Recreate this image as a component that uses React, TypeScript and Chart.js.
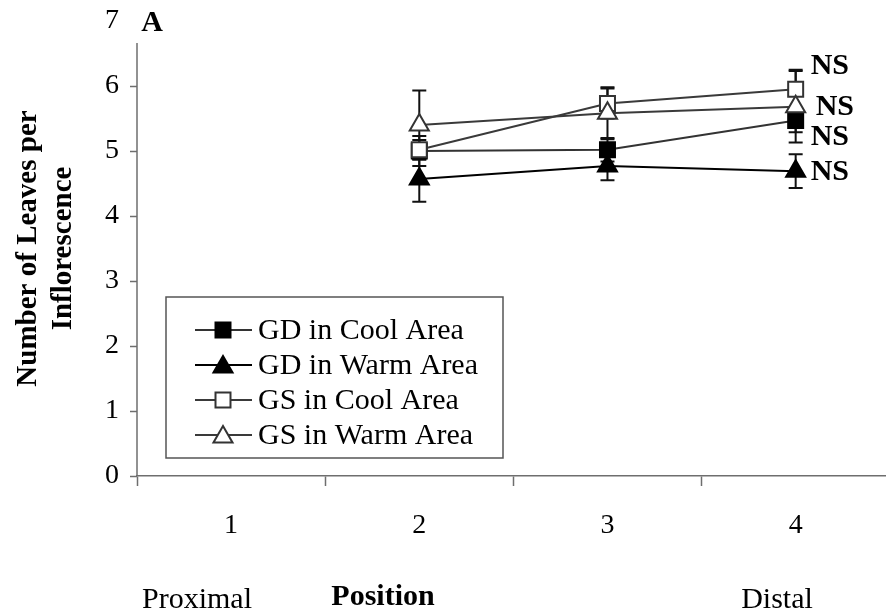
import React, { useEffect, useRef } from 'react';
import { Chart, registerables } from 'chart.js';

Chart.register(...registerables);

// Inflorescence position along the shoot (1 = proximal, 4 = distal)
const positions = [1, 2, 3, 4];
const positionLabels = ['1', '2', '3', '4'];
const yTicks = [0, 1, 2, 3, 4, 5, 6, 7];

// Mean number of leaves per inflorescence and standard error
const gdCool = [null, 5.0, 5.02, 5.47];
const gdCoolErr = [null, 0.23, 0.18, 0.18];
const gdWarm = [null, 4.57, 4.77, 4.69];
const gdWarmErr = [null, 0.35, 0.22, 0.26];
const gsCool = [null, 5.02, 5.73, 5.95];
const gsCoolErr = [null, 0.15, 0.23, 0.3];
const gsWarm = [null, 5.4, 5.58, 5.68];
const gsWarmErr = [null, 0.53, 0.4, 0.55];

const seriesLabels = ['GD in Cool Area', 'GD in Warm Area', 'GS in Cool Area', 'GS in Warm Area'];
const significance = ['NS', 'NS', 'NS', 'NS'];

const SERIF = '"Liberation Serif", "Times New Roman", Times, serif';
const AXIS_GREY = '#6e6e6e';

type SeriesStyle = {
  shape: 'rect' | 'triangle';
  radius: number;
  fill: string;
  stroke: string;
  line: string;
  order: number;
  nsDx: number;
  nsDy: number;
};

const styles: SeriesStyle[] = [
  { shape: 'rect', radius: 10.6, fill: '#000', stroke: '#000', line: '#333', order: 3, nsDx: 15, nsDy: 17 },
  { shape: 'triangle', radius: 11, fill: '#000', stroke: '#000', line: '#000', order: 2, nsDx: 15, nsDy: 1 },
  { shape: 'rect', radius: 10.6, fill: '#fff', stroke: '#333', line: '#3a3a3a', order: 1, nsDx: 15, nsDy: -23 },
  { shape: 'triangle', radius: 11, fill: '#fff', stroke: '#333', line: '#3a3a3a', order: 0, nsDx: 20, nsDy: 0 },
];

const seriesValues = [gdCool, gdWarm, gsCool, gsWarm];
const seriesErrors = [gdCoolErr, gdWarmErr, gsCoolErr, gsWarmErr];

function drawMarker(
  ctx: CanvasRenderingContext2D,
  st: SeriesStyle,
  x: number,
  y: number,
) {
  const r = st.radius;
  ctx.beginPath();
  if (st.shape === 'rect') {
    const s = r * Math.SQRT1_2;
    ctx.rect(x - s, y - s, 2 * s, 2 * s);
  } else {
    const w = r * Math.sin((2 * Math.PI) / 3);
    ctx.moveTo(x, y - r);
    ctx.lineTo(x + w, y + r / 2);
    ctx.lineTo(x - w, y + r / 2);
    ctx.closePath();
  }
  ctx.fillStyle = st.fill;
  ctx.fill();
  ctx.lineWidth = 2;
  ctx.strokeStyle = st.stroke;
  ctx.stroke();
}

// Vertical standard-error bars with caps
const errorBarsPlugin = {
  id: 'errorBars',
  beforeDatasetsDraw(chart: any) {
    const { ctx, scales } = chart;
    const xs = scales.x;
    const ys = scales.y;
    ctx.save();
    ctx.strokeStyle = '#111';
    ctx.lineWidth = 2;
    seriesValues.forEach((vals, si) => {
      vals.forEach((v, i) => {
        if (v == null) return;
        const e = seriesErrors[si][i] as number;
        const px = xs.getPixelForValue(positions[i]);
        const top = ys.getPixelForValue(v + e);
        const bot = ys.getPixelForValue(v - e);
        ctx.beginPath();
        ctx.moveTo(px, top);
        ctx.lineTo(px, bot);
        ctx.moveTo(px - 7, top);
        ctx.lineTo(px + 7, top);
        ctx.moveTo(px - 7, bot);
        ctx.lineTo(px + 7, bot);
        ctx.stroke();
      });
    });
    ctx.restore();
  },
};

// Significance marks beside the distal points
const significancePlugin = {
  id: 'significance',
  afterDatasetsDraw(chart: any) {
    const { ctx, scales } = chart;
    const last = positions.length - 1;
    ctx.save();
    ctx.font = `bold 30px ${SERIF}`;
    ctx.fillStyle = '#000';
    ctx.textAlign = 'left';
    ctx.textBaseline = 'middle';
    seriesValues.forEach((vals, si) => {
      const v = vals[last];
      if (v == null) return;
      const st = styles[si];
      const px = scales.x.getPixelForValue(positions[last]);
      const py = scales.y.getPixelForValue(v);
      ctx.fillText(significance[si], px + st.nsDx, py + st.nsDy);
    });
    ctx.restore();
  },
};

// Axis line, panel letter, axis captions and the boxed legend
const decorationsPlugin = {
  id: 'decorations',
  afterDraw(chart: any) {
    const { ctx, chartArea, scales } = chart;
    const ys = scales.y;
    ctx.save();

    // value axis line
    ctx.strokeStyle = AXIS_GREY;
    ctx.lineWidth = 1.5;
    ctx.beginPath();
    ctx.moveTo(chartArea.left, ys.getPixelForValue(6.66));
    ctx.lineTo(chartArea.left, ys.getPixelForValue(0));
    ctx.stroke();

    ctx.fillStyle = '#000';
    ctx.textBaseline = 'middle';
    ctx.textAlign = 'center';
    ctx.font = `bold 30px ${SERIF}`;
    ctx.fillText('A', chartArea.left + 15, chartArea.top + 2);
    ctx.fillText('Position', chartArea.left + 246, chartArea.bottom + 121);

    ctx.font = `30px ${SERIF}`;
    ctx.fillText('Proximal', chartArea.left + 60, chartArea.bottom + 124);
    ctx.fillText('Distal', chartArea.left + 640, chartArea.bottom + 124);

    // legend
    const bx = chartArea.left + 29;
    const by = chartArea.top + 276;
    const bw = 337;
    const bh = 161;
    ctx.fillStyle = '#fff';
    ctx.fillRect(bx, by, bw, bh);
    ctx.strokeStyle = '#555';
    ctx.lineWidth = 1.5;
    ctx.strokeRect(bx, by, bw, bh);
    ctx.font = `30px ${SERIF}`;
    ctx.textAlign = 'left';
    seriesLabels.forEach((label, i) => {
      const st = styles[i];
      const ry = by + 33 + i * 35;
      ctx.strokeStyle = st.line;
      ctx.lineWidth = 2;
      ctx.beginPath();
      ctx.moveTo(bx + 29, ry);
      ctx.lineTo(bx + 86, ry);
      ctx.stroke();
      drawMarker(ctx, st, bx + 57, ry + (st.shape === 'triangle' ? 2 : 0));
      ctx.fillStyle = '#000';
      ctx.fillText(label, bx + 92, ry + 1);
    });
    ctx.restore();
  },
};

export default function App() {
  const canvasRef = useRef<HTMLCanvasElement | null>(null);

  useEffect(() => {
    const canvas = canvasRef.current;
    if (!canvas) return;

    const datasets = seriesValues.map((vals, si) => {
      const st = styles[si];
      return {
        label: seriesLabels[si],
        data: positions.map((p, i) => ({ x: p, y: vals[i] })),
        borderColor: st.line,
        borderWidth: 2,
        pointStyle: st.shape,
        pointRadius: st.radius,
        pointBackgroundColor: st.fill,
        pointBorderColor: st.stroke,
        pointBorderWidth: 2,
        order: st.order,
        tension: 0,
      };
    });

    const chart = new Chart(canvas, {
      type: 'line',
      data: { datasets },
      options: {
        animation: false,
        responsive: false,
        maintainAspectRatio: false,
        layout: { autoPadding: false, padding: { top: 21, right: 0, left: 0, bottom: 0 } },
        plugins: {
          legend: { display: false },
          tooltip: { enabled: false },
        },
        scales: {
          x: {
            type: 'linear',
            min: positions[0] - 0.5,
            max: positions[positions.length - 1] + 0.48,
            afterBuildTicks: (scale: any) => {
              scale.ticks = positions.flatMap((p) => [{ value: p - 0.5 }, { value: p }]);
            },
            afterFit: (scale: any) => {
              scale.height = 139;
              scale.paddingLeft = 0;
              scale.paddingRight = 0;
            },
            border: { display: true, color: AXIS_GREY, width: 1.5 },
            grid: {
              drawOnChartArea: false,
              drawTicks: true,
              tickLength: 10,
              tickWidth: 1.5,
              tickColor: (ctx: any) =>
                ctx.tick && Number.isInteger(ctx.tick.value) ? 'rgba(0,0,0,0)' : AXIS_GREY,
            },
            ticks: {
              autoSkip: false,
              maxRotation: 0,
              padding: 23,
              color: '#000',
              font: { family: SERIF, size: 28 },
              callback: (value: any) => {
                const idx = positions.indexOf(Number(value));
                return idx >= 0 ? positionLabels[idx] : '';
              },
            },
          },
          y: {
            type: 'linear',
            min: yTicks[0],
            max: yTicks[yTicks.length - 1],
            afterBuildTicks: (scale: any) => {
              scale.ticks = yTicks.map((v) => ({ value: v }));
            },
            afterFit: (scale: any) => {
              scale.width = 137;
              scale.paddingTop = 0;
              scale.paddingBottom = 0;
            },
            border: { display: false },
            grid: {
              drawOnChartArea: false,
              drawTicks: true,
              tickLength: 7,
              tickWidth: 1.5,
              tickColor: (ctx: any) =>
                ctx.tick && ctx.tick.value === yTicks[yTicks.length - 1] ? 'rgba(0,0,0,0)' : AXIS_GREY,
            },
            ticks: {
              padding: 11,
              color: '#000',
              font: { family: SERIF, size: 28 },
            },
            title: {
              display: true,
              text: ['Number of Leaves per', 'Inflorescence'],
              color: '#000',
              font: { family: SERIF, size: 29, weight: 'bold' },
              padding: { top: 11, bottom: 0 },
            },
          },
        },
      },
      plugins: [errorBarsPlugin, significancePlugin, decorationsPlugin],
    } as any);

    return () => chart.destroy();
  }, []);

  return (
    <div style={{ position: 'absolute', left: 0, top: 0, width: 886, height: 615, background: '#fff' }}>
      <canvas ref={canvasRef} width={886} height={615} style={{ display: 'block' }} />
    </div>
  );
}
